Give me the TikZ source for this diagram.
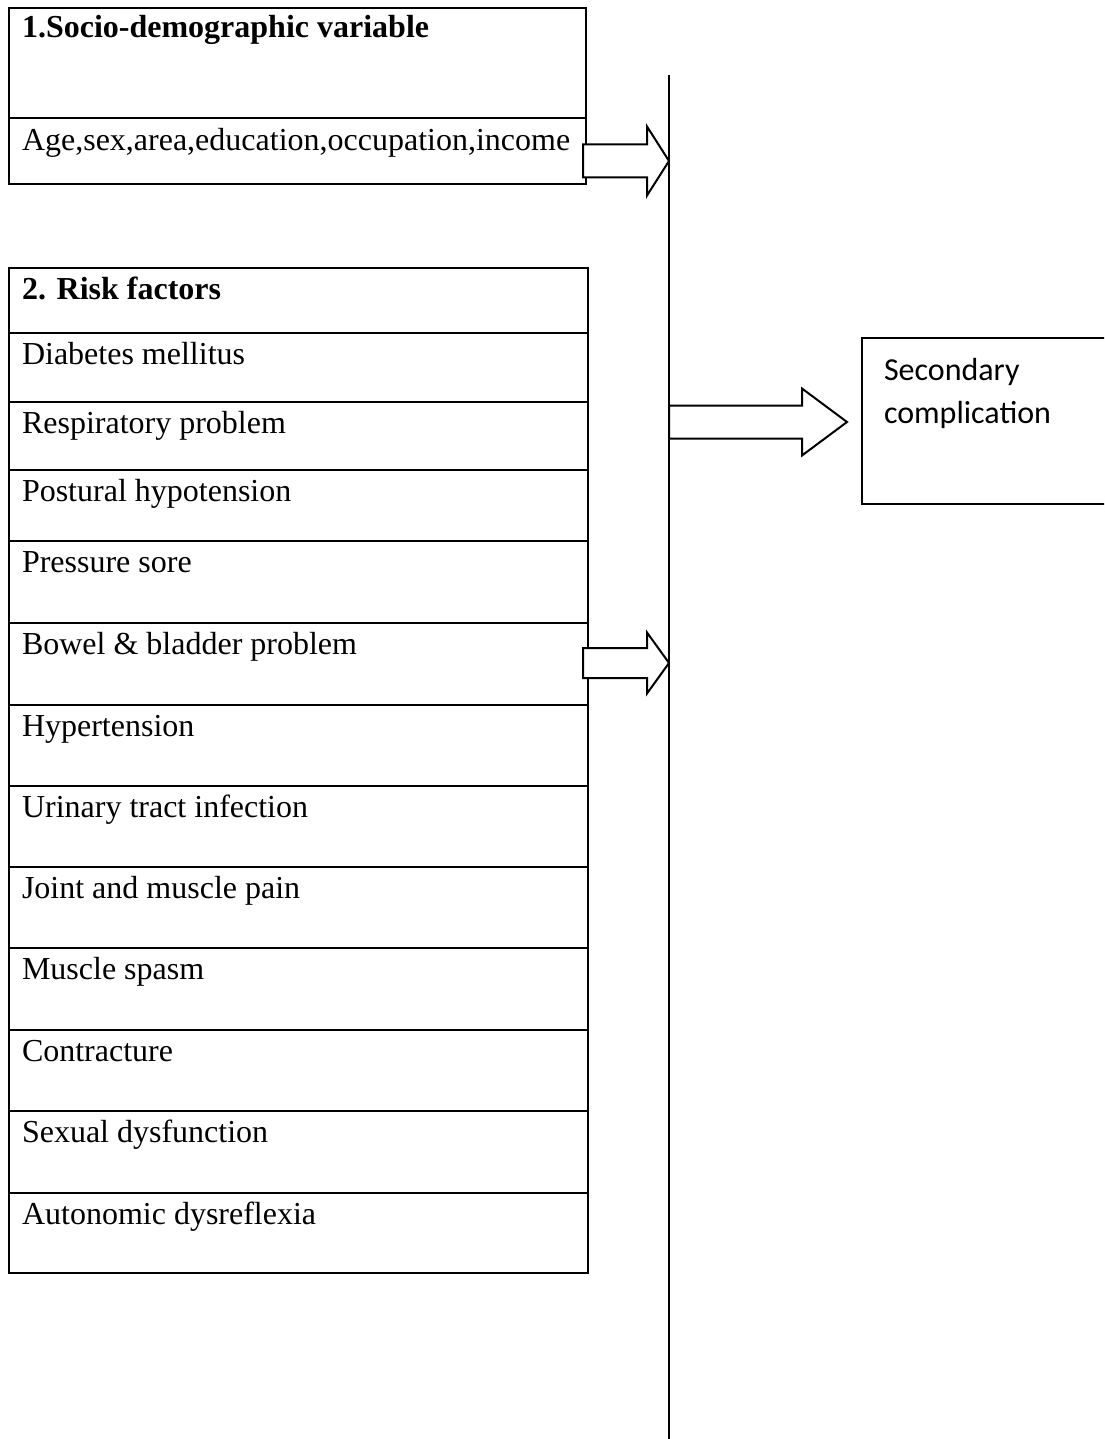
\documentclass[tikz,border=0pt]{standalone}
\usepackage{fontspec}
\setmainfont{Liberation Serif}
\newfontfamily\calibrifont{Carlito}
\usetikzlibrary{calc}
\newcommand\blockarr[5]{% #1 start, #2 tip, #3 shaft half, #4 head half, #5 head length
  \draw[blockarrow] ($(#1)+(0,-#3)$) -- ($(#2)+(-#5,-#3)$) -- ($(#2)+(-#5,-#4)$) -- (#2)
    -- ($(#2)+(-#5,#4)$) -- ($(#2)+(-#5,#3)$) -- ($(#1)+(0,#3)$) -- cycle;}
\begin{document}
\begin{tikzpicture}[x=1pt,y=-1pt,
  cell/.style={draw, line width=2pt, inner sep=0pt, outer sep=0pt, anchor=north west, minimum width=#1},
  cell/.default=579pt,
  lbl/.style={anchor=base west, inner sep=0pt, outer sep=0pt, font=\fontsize{32}{38}\selectfont},
  sclbl/.style={anchor=base west, inner sep=0pt, outer sep=0pt, font=\calibrifont\fontsize{32}{39}\selectfont},
  blockarrow/.style={draw, fill=white, line width=2pt, line join=miter},
  axis/.style={line width=2pt}]
\useasboundingbox (0,0) rectangle (1104,1439);
\clip (0,0) rectangle (1104,1439);
\fill[white] (0,0) rectangle (1104,1439);

% Box 1: socio-demographic
\node[cell=577pt, minimum height=110pt] (sdh) at (9,8) {};
\node[cell=577pt, minimum height=66pt] (sdr) at (9,118) {};
\node[lbl] (sdht) at ($(sdh.north west)+(13,30)$) {\textbf{1.Socio-demographic variable}};
\node[lbl] (sdrt) at ($(sdr.north west)+(13,33)$) {Age,sex,area,education,occupation,income};

% Box 2: risk factors
\foreach \top/\ht/\txt [count=\i] in {
  268/65/{\textbf{2. Risk factors}},
  333/69/{Diabetes mellitus},
  402/68/{Respiratory problem},
  470/71/{Postural hypotension},
  541/82/{Pressure sore},
  623/82/{Bowel \& bladder problem},
  705/81/{Hypertension},
  786/81/{Urinary tract infection},
  867/81/{Joint and muscle pain},
  948/82/{Muscle spasm},
  1030/81/{Contracture},
  1111/82/{Sexual dysfunction},
  1193/80/{Autonomic dysreflexia}} {
  \node[cell, minimum height=\ht pt] (r\i) at (9,\top) {};
  \node[lbl] (rt\i) at ($(r\i.north west)+(13,31)$) {\txt};
}

% Vertical line
\coordinate (vt) at (669,75);
\coordinate (vb) at (669,1439);
\draw[axis] (vt) -- (vb);

% Secondary complication box
\node[cell=260pt, minimum height=166pt] (sc) at (862,338) {};
\node[sclbl] (sct1) at ($(sc.north west)+(22,42)$) {Secondary};
\node[sclbl] (sct2) at ($(sc.north west)+(22,85)$) {complication};

% Block arrows
\coordinate (a1s) at (583,161);
\coordinate (a1t) at (vt |- a1s);
\blockarr{a1s}{a1t}{16.5}{34.5}{22}

\coordinate (a3s) at (583,663);
\coordinate (a3t) at (vt |- a3s);
\blockarr{a3s}{a3t}{15}{30.5}{22}

\coordinate (a2s) at (vt |- 0,422);
\coordinate (a2t) at ($(sc.west |- a2s)+(-15,0)$);
\blockarr{a2s}{a2t}{16.5}{33.5}{45}
\end{tikzpicture}
\end{document}
